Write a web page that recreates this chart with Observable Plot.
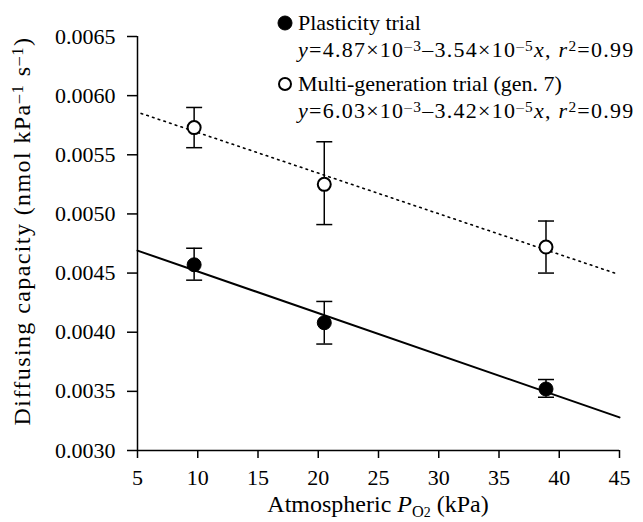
<!DOCTYPE html>
<html>
<head>
<meta charset="utf-8">
<script src="https://cdn.jsdelivr.net/npm/d3@7"></script>
<script src="https://cdn.jsdelivr.net/npm/@observablehq/plot@0.6"></script>
<style>
  body { margin: 0; background: #fff; }
  #chart { position: relative; width: 643px; height: 522px; font-family: "Liberation Serif", "Times New Roman", Times, "DejaVu Serif", serif; color: #000; }
  #chart svg { position: absolute; left: 0; top: 0; }
  .lbl { position: absolute; white-space: nowrap; font-size: 22px; line-height: 22px; }
  .lbl sup { font-size: 0.7em; vertical-align: 0.42em; line-height: 0; }
  .lbl sub { font-size: 0.68em; vertical-align: -0.3em; line-height: 0; }
  .eq { letter-spacing: 1.25px; }
</style>
</head>
<body>
<div id="chart"></div>
<script>
// ---- data ----
const po2 = [9.7, 20.5, 38.9];
const plasticityMean = [0.00457, 0.00408, 0.00352];
const plasticityLow  = [0.00444, 0.00390, 0.00345];
const plasticityHigh = [0.00471, 0.00426, 0.00360];
const multiMean = [0.00573, 0.00525, 0.00472];
const multiLow  = [0.00556, 0.00491, 0.00450];
const multiHigh = [0.00590, 0.00561, 0.00494];
const plasticityFitX = [5, 45];
const plasticityFitY = [0.00469, 0.00328];
const multiFitX = [5.3, 44.6];
const multiFitY = [0.00585, 0.00450];
const xTicks = [5, 10, 15, 20, 25, 30, 35, 40, 45];
const yTicks = [0.0030, 0.0035, 0.0040, 0.0045, 0.0050, 0.0055, 0.0060, 0.0065];
const seriesNames = ["Plasticity trial", "Multi-generation trial (gen. 7)"];

const plasticity = po2.map((x, i) => ({x, y: plasticityMean[i], lo: plasticityLow[i], hi: plasticityHigh[i]}));
const multi = po2.map((x, i) => ({x, y: multiMean[i], lo: multiLow[i], hi: multiHigh[i]}));
const plasticityFit = plasticityFitX.map((x, i) => ({x, y: plasticityFitY[i]}));
const multiFit = multiFitX.map((x, i) => ({x, y: multiFitY[i]}));

const capSymbol = {
  draw(context, size) {
    const w = Math.sqrt(size / Math.PI);
    context.moveTo(-w, 0);
    context.lineTo(w, 0);
  }
};

const FONT = "'Liberation Serif', 'Times New Roman', Times, 'DejaVu Serif', serif";

const plot = Plot.plot({
  width: 643,
  height: 522,
  marginLeft: 137,
  marginRight: 24,
  marginTop: 36,
  marginBottom: 72,
  style: { fontFamily: FONT, fontSize: "22px", color: "#000", background: "transparent", overflow: "visible" },
  x: { domain: [5, 45] },
  y: { domain: [0.0030, 0.0065] },
  marks: [
    Plot.axisX({ ticks: xTicks, tickSize: 8, tickPadding: 11, label: null, stroke: "#000", strokeWidth: 1.5, strokeOpacity: 1, fontSize: 22, fontFamily: FONT }),
    Plot.axisY({ ticks: yTicks, tickSize: 10, tickPadding: 12, tickFormat: d3.format(".4f"), label: null, stroke: "#000", strokeWidth: 1.5, strokeOpacity: 1, fontSize: 22, fontFamily: FONT }),
    Plot.ruleX([5], { stroke: "#000", strokeWidth: 1.5 }),
    Plot.ruleY([0.0030], { stroke: "#000", strokeWidth: 1.5 }),
    Plot.line(plasticityFit, { x: "x", y: "y", stroke: "#000", strokeWidth: 2 }),
    Plot.line(multiFit, { x: "x", y: "y", stroke: "#000", strokeWidth: 1.6, strokeDasharray: "1.6 4.4" }),
    Plot.ruleX(plasticity, { x: "x", y1: "lo", y2: "hi", stroke: "#000", strokeWidth: 1.5 }),
    Plot.dot(plasticity, { x: "x", y: "lo", symbol: capSymbol, r: 8, stroke: "#000", strokeWidth: 1.5, fill: "none" }),
    Plot.dot(plasticity, { x: "x", y: "hi", symbol: capSymbol, r: 8, stroke: "#000", strokeWidth: 1.5, fill: "none" }),
    Plot.ruleX(multi, { x: "x", y1: "lo", y2: "hi", stroke: "#000", strokeWidth: 1.5 }),
    Plot.dot(multi, { x: "x", y: "lo", symbol: capSymbol, r: 8, stroke: "#000", strokeWidth: 1.5, fill: "none" }),
    Plot.dot(multi, { x: "x", y: "hi", symbol: capSymbol, r: 8, stroke: "#000", strokeWidth: 1.5, fill: "none" }),
    Plot.dot(plasticity, { x: "x", y: "y", r: 7, fill: "#000", stroke: "#000", strokeWidth: 1 }),
    Plot.dot(multi, { x: "x", y: "y", r: 6.5, fill: "#fff", stroke: "#000", strokeWidth: 2 })
  ]
});

const chart = document.getElementById("chart");
chart.appendChild(plot);

function addLabel(html, left, top, extra, cls) {
  const d = document.createElement("div");
  d.className = "lbl" + (cls ? " " + cls : "");
  d.innerHTML = html;
  d.style.left = left + "px";
  d.style.top = top + "px";
  if (extra) Object.assign(d.style, extra);
  chart.appendChild(d);
  return d;
}

// legend
const marker = (filled) => `<svg width="16" height="16" style="position:absolute;left:-21px;top:3px;overflow:visible"><circle cx="8" cy="8" r="${filled ? 7 : 6}" fill="${filled ? "#000" : "#fff"}" stroke="#000" stroke-width="${filled ? 1 : 2}"/></svg>`;
addLabel(marker(true) + seriesNames[0], 298, 12);
addLabel(`<i>y</i>=4.87×10<sup>–3</sup>–3.54×10<sup>–5</sup><i>x</i>, <i>r</i><sup>2</sup>=0.99`, 298, 39, null, "eq");
addLabel(marker(false) + seriesNames[1], 298, 73);
addLabel(`<i>y</i>=6.03×10<sup>–3</sup>–3.42×10<sup>–5</sup><i>x</i>, <i>r</i><sup>2</sup>=0.99`, 298, 100, null, "eq");

// axis titles
addLabel(`Atmospheric <i>P</i><sub>O<span style="font-size:0.85em">2</span></sub> (kPa)`, 378, 492, { transform: "translateX(-50%)", fontSize: "24px", lineHeight: "24px" });
addLabel(`Diffusing capacity (nmol kPa<sup>–1</sup> s<sup>–1</sup>)`, 22, 231, { transform: "translate(-50%,-50%) rotate(-90deg)", fontSize: "24px", lineHeight: "24px", letterSpacing: "1.4px" });
</script>
</body>
</html>
